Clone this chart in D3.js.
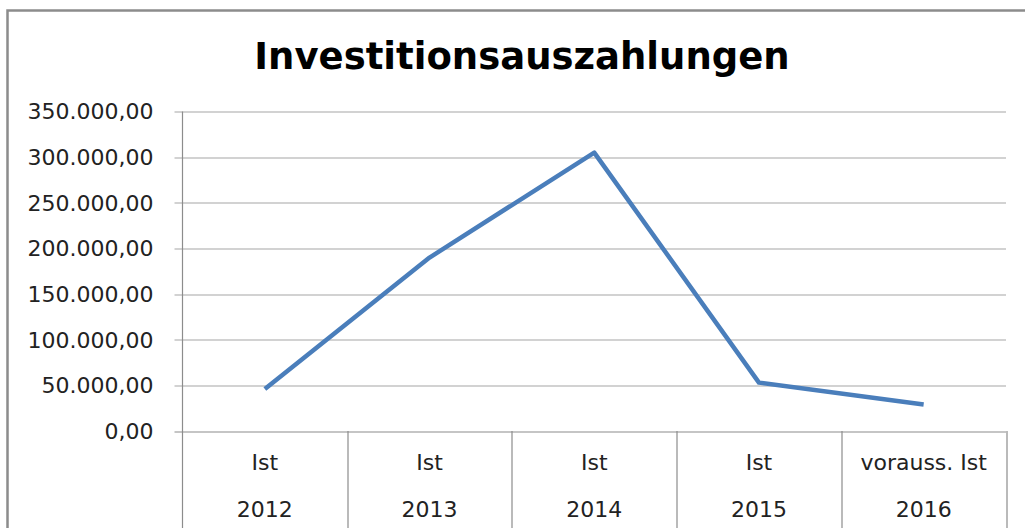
<!DOCTYPE html>
<html>
<head>
<meta charset="utf-8">
<script src="https://cdn.jsdelivr.net/npm/d3@7"></script>
<style>
  body { margin: 0; background: #fff; }
  svg { display: block; font-family: 'DejaVu Sans', sans-serif; }
</style>
</head>
<body>
<div id="chart"></div>
<script>
const years = ['2012', '2013', '2014', '2015', '2016']
const status = ['Ist', 'Ist', 'Ist', 'Ist', 'vorauss. Ist']
const values = [46000, 190000, 305000, 53000, 29000]
const yTicks = [0, 50000, 100000, 150000, 200000, 250000, 300000, 350000]

const fullWidth = 1025,
  fullHeight = 528,
  margin = { top: 111.5, right: 19, bottom: 97, left: 182.5 },
  width = fullWidth - margin.left - margin.right,
  height = fullHeight - margin.top - margin.bottom

const de = d3.formatLocale({ decimal: ',', thousands: '.', grouping: [3], currency: ['', ' €'] })
const fmt = de.format(',.2f')

const svg = d3.select('#chart')
  .append('svg')
  .attr('width', fullWidth)
  .attr('height', fullHeight)

// chart frame
svg.append('rect')
  .attr('x', 7.5).attr('y', 10.5)
  .attr('width', 1040).attr('height', 560)
  .attr('fill', 'none')
  .attr('stroke', '#8c8c8c')
  .attr('stroke-width', 2.5)

svg.append('text')
  .attr('x', 522)
  .attr('y', 69)
  .attr('text-anchor', 'middle')
  .style('font-size', '37px')
  .style('font-weight', 'bold')
  .attr('fill', '#000')
  .text('Investitionsauszahlungen')

const g = svg.append('g')
  .attr('transform', `translate(${margin.left}, ${margin.top})`)

const x = d3.scaleBand()
  .domain(years)
  .range([0, width])

const y = d3.scaleLinear()
  .domain([0, 350000])
  .range([height, 0])

// gridlines + y ticks
g.selectAll('.grid')
  .data(yTicks)
  .enter()
  .append('line')
  .attr('class', 'grid')
  .attr('x1', -8)
  .attr('x2', width)
  .attr('y1', d => Math.round(y(d)) + 0.5)
  .attr('y2', d => Math.round(y(d)) + 0.5)
  .attr('stroke', d => d === 0 ? '#8c8c8c' : '#a6a6a6')
  .attr('stroke-width', 1.2)

g.selectAll('.ylab')
  .data(yTicks)
  .enter()
  .append('text')
  .attr('class', 'ylab')
  .attr('x', -29)
  .attr('y', d => y(d))
  .attr('dy', '0.36em')
  .attr('text-anchor', 'end')
  .style('font-size', '22px')
  .attr('fill', '#222')
  .text(d => fmt(d))

// y axis line, runs down through the category area
g.append('line')
  .attr('x1', 0).attr('x2', 0)
  .attr('y1', 0).attr('y2', fullHeight)
  .attr('stroke', '#8c8c8c')
  .attr('stroke-width', 1.2)

// category separators
g.selectAll('.sep')
  .data(years)
  .enter()
  .append('line')
  .attr('class', 'sep')
  .attr('x1', d => Math.round(x(d) + x.bandwidth()) + 0.5)
  .attr('x2', d => Math.round(x(d) + x.bandwidth()) + 0.5)
  .attr('y1', height)
  .attr('y2', fullHeight)
  .attr('stroke', '#8c8c8c')
  .attr('stroke-width', 1.2)

const cat = g.selectAll('.cat')
  .data(years)
  .enter()
  .append('g')
  .attr('class', 'cat')
  .attr('transform', d => `translate(${x(d) + x.bandwidth() / 2}, ${height})`)

cat.append('text')
  .attr('y', 31)
  .attr('dy', '0.36em')
  .attr('text-anchor', 'middle')
  .style('font-size', '22px')
  .attr('fill', '#222')
  .text((d, i) => status[i])

cat.append('text')
  .attr('y', 78)
  .attr('dy', '0.36em')
  .attr('text-anchor', 'middle')
  .style('font-size', '22px')
  .attr('fill', '#222')
  .text(d => d)

const line = d3.line()
  .x((d, i) => x(years[i]) + x.bandwidth() / 2)
  .y(d => y(d))

g.append('path')
  .datum(values)
  .attr('d', line)
  .attr('fill', 'none')
  .attr('stroke', '#4a7ebb')
  .attr('stroke-width', 4.5)
  .attr('stroke-linejoin', 'round')
</script>
</body>
</html>
